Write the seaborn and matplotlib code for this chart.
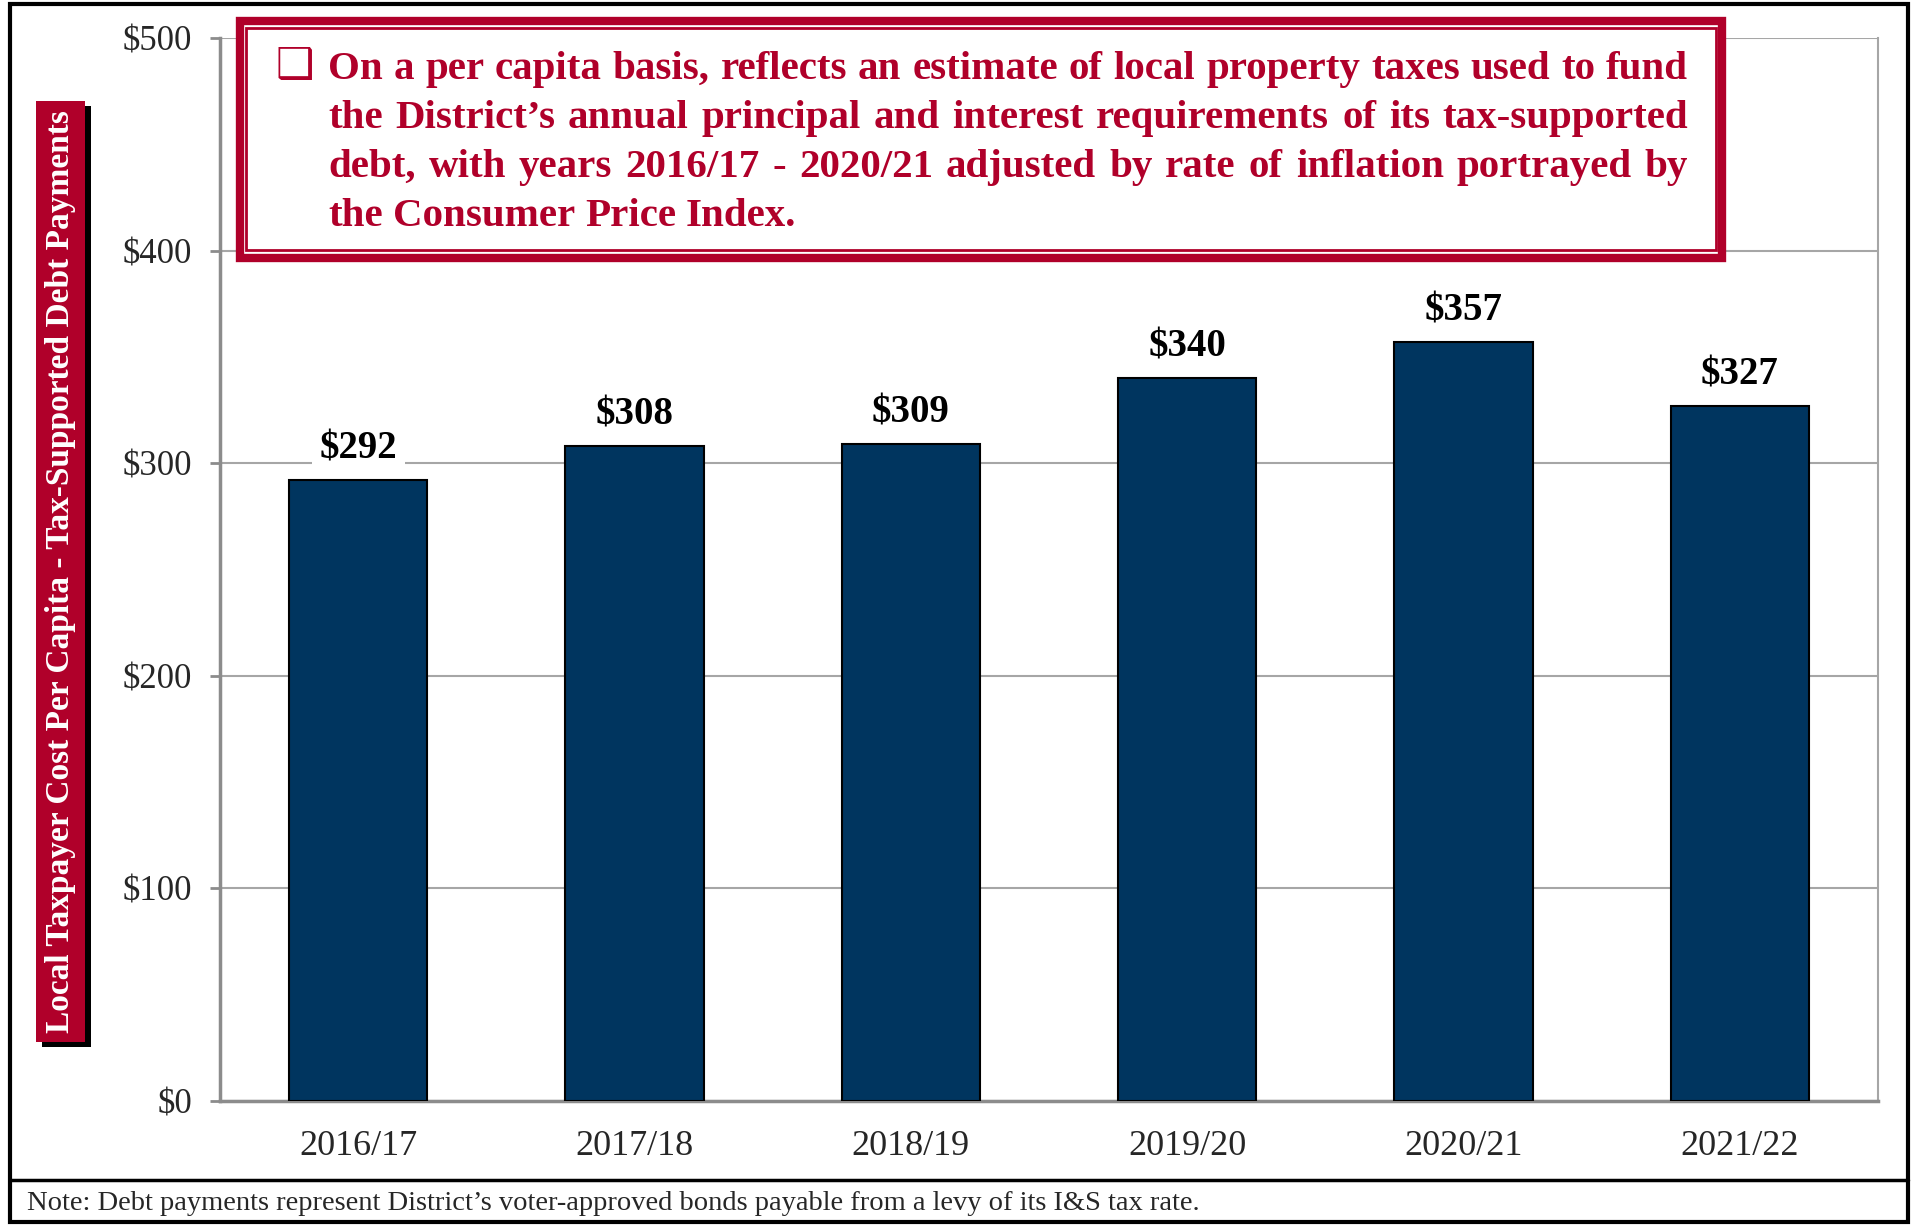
import matplotlib
matplotlib.use("Agg")
import matplotlib.pyplot as plt
import seaborn as sns
from matplotlib.patches import Rectangle
from matplotlib.lines import Line2D

# data
years = ["2016/17", "2017/18", "2018/19", "2019/20", "2020/21", "2021/22"]
cost_per_capita = [292, 308, 309, 340, 357, 327]
y_ticks = [0, 100, 200, 300, 400, 500]

box_lines = [
    "On a per capita basis, reflects an estimate of local property taxes used to fund",
    "the District\u2019s annual principal and interest requirements of its tax-supported",
    "debt, with years 2016/17 - 2020/21 adjusted by rate of inflation portrayed by",
    "the Consumer Price Index.",
]
y_title = "Local Taxpayer Cost Per Capita - Tax-Supported Debt Payments"
note = "Note: Debt payments represent District\u2019s voter-approved bonds payable from a levy of its I&S tax rate."

NAVY = "#00355F"
RED = "#B0002A"
GRID = "#A6A6A6"

W, H = 1911, 1227

def fx(p):
    return p / W

def fy(p):
    return 1 - p / H

sns.set_style("white")
plt.rcParams["font.family"] = ["Liberation Serif", "DejaVu Serif"]

fig = plt.figure(figsize=(W / 100, H / 100), dpi=100)
ax = fig.add_axes([fx(220), fy(1101), fx(1878) - fx(220), fy(38) - fy(1101)])

sns.barplot(x=years, y=cost_per_capita, color=NAVY, saturation=1, width=0.5,
            edgecolor="black", linewidth=1.5, ax=ax, zorder=3)

ax.set_ylim(0, 500)
ax.set_xlim(-0.5, len(years) - 0.5)
ax.set_yticks(y_ticks)
ax.set_yticklabels([f"${v}" for v in y_ticks], fontsize=25)
ax.set_xticks(range(len(years)))
ax.set_xticklabels(years, fontsize=26)
ax.set_xticks([i - 0.5 for i in range(len(years) + 1)], minor=True)
ax.tick_params(axis="x", which="major", length=0, pad=21)
ax.tick_params(axis="x", which="minor", length=7, width=2, color="#8C8C8C", direction="out")
ax.tick_params(axis="y", length=7, width=2, color="#8C8C8C", direction="out", pad=13, left=True)
ax.set_xlabel("")
ax.set_ylabel("")
ax.yaxis.grid(True, color=GRID, linewidth=1.5)
ax.set_axisbelow(True)
for s in ["left", "bottom"]:
    ax.spines[s].set_color("#8C8C8C")
    ax.spines[s].set_linewidth(2.5)
ax.spines["right"].set_color(GRID)
ax.spines["right"].set_linewidth(1.5)
ax.spines["top"].set_visible(False)

# value labels
for i, v in enumerate(cost_per_capita):
    ax.annotate(f"${v}", (i, v), xytext=(0, 9), textcoords="offset points",
                ha="center", va="bottom", fontsize=28, fontweight="bold", color="black",
                bbox=dict(boxstyle="square,pad=0.2", fc="white", ec="none"), zorder=4)

# outer frame and note
fig.add_artist(Rectangle((fx(10), fy(1222)), fx(1908) - fx(10), fy(4) - fy(1222),
                         transform=fig.transFigure, fill=False, ec="black", lw=3))
fig.add_artist(Line2D([fx(10), fx(1908)], [fy(1180), fy(1180)], transform=fig.transFigure,
                      color="black", lw=2.5))
fig.text(fx(27), fy(1204), note, fontsize=20.5, va="center", ha="left")

# y title box with shadow
fig.add_artist(Rectangle((fx(42), fy(1047)), fx(91) - fx(42), fy(106) - fy(1047),
                         transform=fig.transFigure, fc="black", ec="none"))
fig.add_artist(Rectangle((fx(36), fy(1042)), fx(85) - fx(36), fy(101) - fy(1042),
                         transform=fig.transFigure, fc=RED, ec="none"))
fig.text(fx(61), fy(572), y_title, rotation=90, color="white", fontsize=24,
         fontweight="bold", ha="center", va="center")

# annotation box
fig.add_artist(Rectangle((fx(240), fy(258)), fx(1722) - fx(240), fy(21) - fy(258),
                         transform=fig.transFigure, fc="white", ec=RED, lw=6))
fig.add_artist(Rectangle((fx(246), fy(250)), fx(1716) - fx(246), fy(28) - fy(250),
                         transform=fig.transFigure, fill=False, ec=RED, lw=2))
fig.text(fx(275), fy(78), "\u2751", family=["DejaVu Sans"], fontsize=31, color=RED,
         ha="left", va="baseline")

renderer = fig.canvas.get_renderer()
x0, x1 = 328, 1688
baselines = [79, 128, 177, 226]
fs = 26

def width_of(s, size):
    t = fig.text(0, 0, s, fontsize=size, fontweight="bold")
    w = t.get_window_extent(renderer).width
    t.remove()
    return w

longest = max(width_of(l, fs) for l in box_lines)
fs = fs * (x1 - x0 - 6) / longest

for k, line in enumerate(box_lines):
    words = line.split(" ")
    objs = [fig.text(0, fy(baselines[k]), w, fontsize=fs, fontweight="bold", color=RED,
                     ha="left", va="baseline") for w in words]
    widths = [o.get_window_extent(renderer).width for o in objs]
    if k < len(box_lines) - 1:
        gap = (x1 - x0 - sum(widths)) / (len(words) - 1)
    else:
        gap = (width_of(line, fs) - sum(widths)) / (len(words) - 1)
    x = x0
    for o, w in zip(objs, widths):
        o.set_x(fx(x))
        x += w + gap

fig.savefig("out.png", dpi=100)
